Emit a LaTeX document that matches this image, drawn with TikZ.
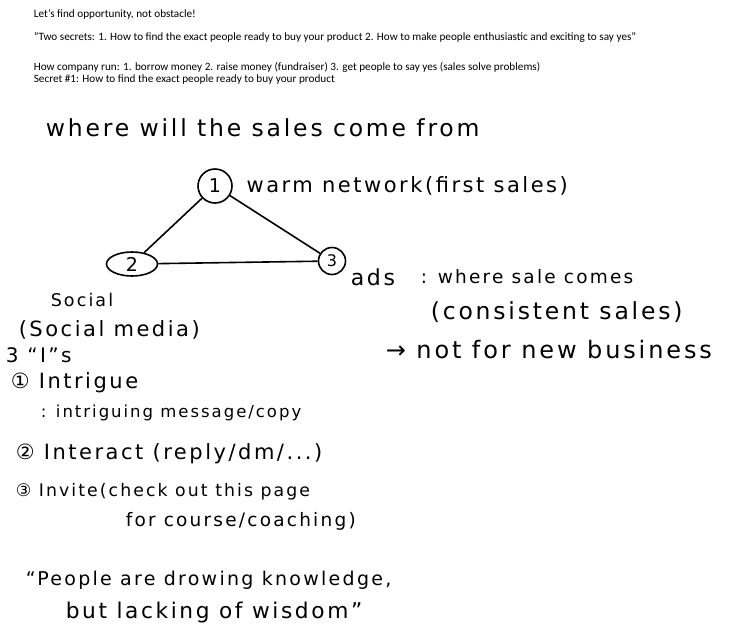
\documentclass[tikz,border=0pt]{standalone}
\usepackage{fontspec}
\setmainfont{Carlito}
\newfontfamily\hand[LetterSpace=12]{DejaVu Sans}
\newcommand\handsz[1]{\hand\fontsize{#1}{#1}\selectfont}
\usetikzlibrary{positioning,shapes.geometric}

\begin{document}
\begin{tikzpicture}[x=1pt, y=-1pt, line width=1.6pt, node distance=13pt]
  \tikzstyle{typed}=[anchor=west, inner sep=0pt, font=\fontsize{11.2}{13}\selectfont]
  \tikzstyle{hw}=[anchor=west, inner sep=0pt, font=\handsz{20}]
  \tikzstyle{v}=[circle, draw, inner sep=0pt, font=\handsz{19}]

  \useasboundingbox (0,0) rectangle (743,640);

  % typed notes
  \node[typed] (L1) at (33,14) {Let's find opportunity, not obstacle!};
  \node[typed] (L2) at (33,38) {"Two secrets: 1. How to find the exact people ready to buy your product 2. How to make people enthusiastic and exciting to say yes"};
  \node[typed] (L3) at (33,67) {How company run: 1. borrow money 2. raise money (fundraiser) 3. get people to say yes (sales solve problems)};
  \node[typed] (L4) at (33,80) {Secret \#1: How to find the exact people ready to buy your product};

  % handwritten part
  \node[hw, font=\handsz{23.5}] (Title) at (45,128) {where will the sales come from};

  \node[v, minimum size=34pt] (S1) at (215,186) {1};
  \node[ellipse, draw, inner sep=0pt, minimum width=51pt, minimum height=24pt,
        font=\handsz{19}] (S2) at (132,264) {2};
  \node[v, minimum size=27pt, font=\handsz{16}] (S3) at (332,261) {3};

  \draw (S1) -- (S2);
  \draw (S1) -- (S3);
  \draw (S2) -- (S3);

  \node[hw, font=\handsz{21}, right=of S1] (Warm) {warm network(first sales)};

  \node[hw, font=\handsz{22}] (Ads) at (350,277) {ads};
  \node[hw, font=\handsz{18.5}] (Where) at (420,277) {: where sale comes};
  \node[hw, font=\handsz{23.5}] (Consist) at (430,312) {(consistent sales)};
  \node[hw, font=\handsz{24}] (NotNew) at (385,350) {→ not for new business};

  \node[hw, font=\handsz{17.5}] (Social) at (50,300) {Social};
  \node[hw, font=\handsz{21}] (Media) at (18,330) {(Social media)};
  \node[hw] (ThreeI) at (5,355) {3 “I”s};
  \node[hw, font=\handsz{21}] (Intrigue) at (10,383) {① Intrigue};
  \node[hw, font=\handsz{16.5}] (Msg) at (40,413) {: intriguing message/copy};
  \node[hw, font=\handsz{21}] (Interact) at (15,454) {② Interact (reply/dm/...)};
  \node[hw, font=\handsz{17.3}] (Invite) at (15,492) {③ Invite(check out this page};
  \node[hw, font=\handsz{18.5}] (Course) at (125,521) {for course/coaching)};

  \node[hw, font=\handsz{19}] (Quote1) at (25,580) {“People are drowing knowledge,};
  \node[hw, font=\handsz{21.7}] (Quote2) at (65,613) {but lacking of wisdom”};
\end{tikzpicture}
\end{document}
